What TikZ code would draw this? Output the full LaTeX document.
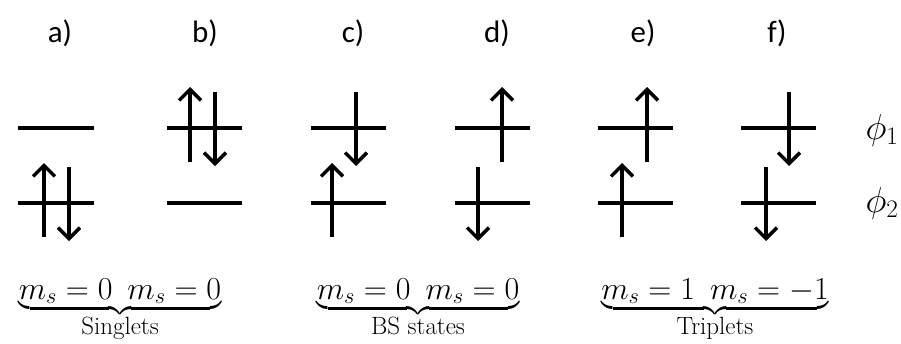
\RequirePackage{fix-cm}
\documentclass[tikz,border=0pt]{standalone}
\usepackage{amsmath}
\usepackage{fontspec}
\newfontfamily\lblfont{Carlito}
\usepackage{tikz}
\usetikzlibrary{arrows.meta}

\newcommand{\bracetext}[1]{\text{\fontsize{25}{30}\selectfont #1}}

\tikzset{
  level/.style={line width=3.8pt},
  spin/.style={line width=3.4pt,-{Straight Barb[length=11pt,width=22pt,line width=3.4pt]}},
  panel/.style={font=\lblfont\fontsize{31}{36}\selectfont,inner sep=0pt},
  msgroup/.style={font=\fontsize{32}{38}\selectfont,inner sep=0pt,anchor=base},
  orbital/.style={font=\fontsize{36}{42}\selectfont,inner sep=0pt}
}

\begin{document}
\begin{tikzpicture}[x=1pt,y=-1pt]
\useasboundingbox (0,0) rectangle (901,343);
% panel labels
\node[panel] (lbl_a) at (60,33) {a)};
\node[panel] (lbl_b) at (205,33) {b)};
\node[panel] (lbl_c) at (353,33) {c)};
\node[panel] (lbl_d) at (497,33) {d)};
\node[panel] (lbl_e) at (643,33) {e)};
\node[panel] (lbl_f) at (777,33) {f)};
% a) both electrons in phi_2
\draw[level] (18,128) -- (94,128);
\draw[level] (18,203) -- (94,203);
\draw[spin] (44,237) -- (44,163);
\draw[spin] (69,167) -- (69,241);
% b) both electrons in phi_1
\draw[level] (167,128) -- (242,128);
\draw[level] (167,203) -- (242,203);
\draw[spin] (190,162) -- (190,87);
\draw[spin] (215,92) -- (215,166);
% c) broken symmetry
\draw[level] (311,128) -- (386,128);
\draw[level] (311,203) -- (386,203);
\draw[spin] (356,92) -- (356,166);
\draw[spin] (332,237) -- (332,163);
% d) broken symmetry
\draw[level] (455,128) -- (530,128);
\draw[level] (455,203) -- (530,203);
\draw[spin] (502,162) -- (502,87);
\draw[spin] (478,167) -- (478,241);
% e) triplet up
\draw[level] (598,128) -- (673,128);
\draw[level] (598,203) -- (673,203);
\draw[spin] (647,162) -- (647,87);
\draw[spin] (622,237) -- (622,163);
% f) triplet down
\draw[level] (741,128) -- (816,128);
\draw[level] (741,203) -- (816,203);
\draw[spin] (789,92) -- (789,166);
\draw[spin] (766,167) -- (766,241);
% orbitals
\node[orbital] (phi_one) at (882,130) {$\phi_1$};
\node[orbital] (phi_two) at (882,203) {$\phi_2$};
% spin projections
\node[msgroup] (ms_singlet) at (120,299) {$\underbrace{m_s=0\ \,m_s=0}_{\bracetext{Singlets}}$};
\node[msgroup] (ms_bs) at (418,299) {$\underbrace{m_s=0\ \,m_s=0}_{\bracetext{BS states}}$};
\node[msgroup] (ms_triplet) at (715,299) {$\underbrace{m_s=1\ \,m_s=-1}_{\bracetext{Triplets}}$};
\end{tikzpicture}
\end{document}
